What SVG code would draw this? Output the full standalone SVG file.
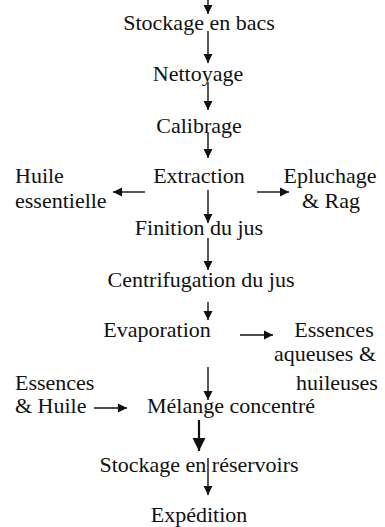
<svg xmlns="http://www.w3.org/2000/svg" width="385" height="527" viewBox="0 0 385 527">
<defs>
<style>
.c{text-anchor:middle}
.l{text-anchor:start}
line{stroke:#111;stroke-width:1.4}
line.b{stroke-width:2.2}
</style>
<marker id="ah" viewBox="0 0 10 10" refX="10" refY="5" markerWidth="9" markerHeight="10" markerUnits="userSpaceOnUse" orient="auto"><path d="M0,0L10,5L0,10z" fill="#111"/></marker>
<marker id="ahb" viewBox="0 0 10 10" refX="10" refY="5" markerWidth="13" markerHeight="17" markerUnits="userSpaceOnUse" orient="auto"><path d="M0,0L10,5L0,10z" fill="#111"/></marker>
</defs>
<rect width="385" height="527" fill="#fff"/>
<g id="connectors">
<line x1="208" y1="0" x2="208" y2="14" marker-end="url(#ah)"/>
<line x1="208" y1="31" x2="208" y2="63" marker-end="url(#ah)"/>
<line x1="208" y1="82" x2="208" y2="110" marker-end="url(#ah)"/>
<line x1="208" y1="133" x2="208" y2="158" marker-end="url(#ah)"/>
<line x1="145" y1="192" x2="113" y2="192" marker-end="url(#ah)"/>
<line x1="257" y1="192" x2="289" y2="192" marker-end="url(#ah)"/>
<line x1="208" y1="190" x2="208" y2="223" marker-end="url(#ah)"/>
<line x1="208" y1="238" x2="208" y2="270" marker-end="url(#ah)"/>
<line x1="208" y1="302" x2="208" y2="320" marker-end="url(#ah)"/>
<line x1="240" y1="335" x2="273" y2="335" marker-end="url(#ah)"/>
<line x1="208" y1="367" x2="208" y2="400" marker-end="url(#ah)"/>
<line x1="94" y1="408" x2="127" y2="408" marker-end="url(#ah)"/>
<line class="b" x1="199" y1="420" x2="199" y2="451" marker-end="url(#ahb)"/>
<line x1="208" y1="458" x2="208" y2="495" marker-end="url(#ah)"/>
</g>
<g font-family="Liberation Serif, serif" font-size="22" fill="#111">
<g id="stockage-bacs"><text class="c" x="199" y="30">Stockage en bacs</text></g>
<g id="nettoyage"><text class="c" x="198" y="81">Nettoyage</text></g>
<g id="calibrage"><text class="c" x="199" y="133">Calibrage</text></g>
<g id="extraction"><text class="c" x="199" y="183">Extraction</text></g>
<g id="huile-essentielle"><text class="l" x="15" y="183">Huile</text><text class="l" x="15" y="208">essentielle</text></g>
<g id="epluchage-rag"><text class="c" x="330" y="183">Epluchage</text><text class="c" x="331" y="208">&amp; Rag</text></g>
<g id="finition"><text class="c" x="199" y="235">Finition du jus</text></g>
<g id="centrifugation"><text class="c" x="201" y="287">Centrifugation du jus</text></g>
<g id="evaporation"><text class="c" x="157" y="337">Evaporation</text></g>
<g id="essences-aqueuses"><text class="c" x="334" y="337">Essences</text><text class="c" x="325" y="361">aqueuses &amp;</text><text class="c" x="337" y="390">huileuses</text></g>
<g id="essences-huile"><text class="l" x="15" y="390">Essences</text><text class="l" x="15" y="413">&amp; Huile</text></g>
<g id="melange"><text class="c" x="231" y="413">Mélange concentré</text></g>
<g id="stockage-reservoirs"><text class="c" x="199" y="472">Stockage en réservoirs</text></g>
<g id="expedition"><text class="c" x="199" y="522">Expédition</text></g>
</g>
</svg>
